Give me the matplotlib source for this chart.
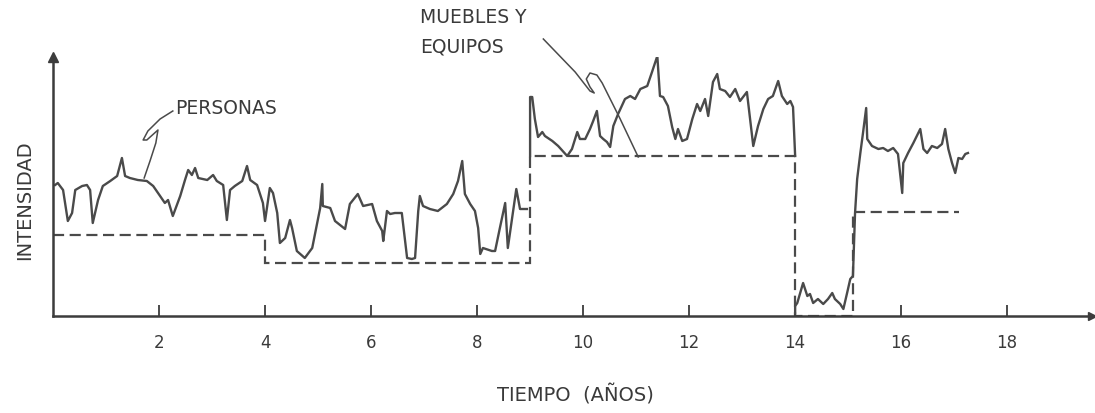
import numpy as np
import matplotlib.pyplot as plt

# intensidad de carga (unidades arbitrarias) frente al tiempo en años
personas_t = [0.04, 0.09, 0.19, 0.28, 0.36, 0.42, 0.55, 0.64, 0.70, 0.75, 0.85, 0.94,
              1.08, 1.21, 1.30, 1.36, 1.45, 1.60, 1.77, 1.89, 2.02, 2.11, 2.17, 2.26,
              2.40, 2.49, 2.55, 2.62, 2.68, 2.74, 2.91, 3.02, 3.09, 3.21, 3.28, 3.34,
              3.43, 3.57, 3.66, 3.72, 3.85, 3.96, 4.00, 4.09, 4.15, 4.23, 4.28, 4.38,
              4.47, 4.51, 4.60, 4.75, 4.89, 4.98, 5.04, 5.08, 5.09, 5.23, 5.32, 5.51,
              5.60, 5.75, 5.85, 6.02, 6.11, 6.21, 6.23, 6.30, 6.36, 6.45, 6.58, 6.68,
              6.77, 6.83, 6.89, 6.92, 6.98, 7.11, 7.26, 7.43, 7.55, 7.64, 7.72, 7.77,
              7.87, 7.96, 8.02, 8.06, 8.11, 8.28, 8.34, 8.43, 8.53, 8.58, 8.68, 8.74,
              8.81, 8.94]
personas_i = [5.24, 5.32, 5.04, 3.80, 4.12, 5.04, 5.20, 5.24, 5.04, 3.72, 4.64, 5.20,
              5.40, 5.60, 6.32, 5.60, 5.52, 5.44, 5.40, 5.20, 4.80, 4.52, 4.64, 4.00,
              4.80, 5.44, 5.84, 5.64, 5.92, 5.52, 5.44, 5.64, 5.40, 5.24, 3.84, 5.04,
              5.20, 5.40, 6.00, 5.44, 5.24, 4.52, 3.80, 5.12, 4.92, 4.12, 2.92, 3.12,
              3.84, 3.52, 2.60, 2.32, 2.72, 3.68, 4.32, 5.28, 4.40, 4.32, 3.80, 3.48,
              4.48, 4.88, 4.40, 4.48, 3.80, 3.40, 3.00, 4.20, 4.08, 4.12, 4.12, 2.32,
              2.28, 2.32, 4.20, 4.80, 4.40, 4.28, 4.20, 4.48, 4.88, 5.40, 6.20, 4.88,
              4.48, 4.20, 3.52, 2.48, 2.72, 2.60, 2.60, 3.52, 4.52, 2.72, 4.20, 5.08,
              4.28, 4.28]

muebles_t = [9.00, 9.00, 9.04, 9.09, 9.15, 9.23, 9.28, 9.42, 9.53, 9.70, 9.79, 9.89,
             9.94, 10.04, 10.13, 10.19, 10.26, 10.32, 10.38, 10.45, 10.51, 10.57, 10.66,
             10.79, 10.89, 10.98, 11.08, 11.21, 11.30, 11.40, 11.45, 11.51, 11.60, 11.68,
             11.74, 11.79, 11.87, 11.96, 12.06, 12.15, 12.21, 12.30, 12.36, 12.45, 12.53,
             12.58, 12.68, 12.77, 12.87, 12.96, 13.09, 13.21, 13.30, 13.40, 13.49, 13.58,
             13.68, 13.75, 13.85, 13.91, 13.96, 14.00]
muebles_i = [6.40, 8.76, 8.76, 7.88, 7.16, 7.36, 7.20, 7.00, 6.80, 6.40, 6.68, 7.36,
             7.08, 7.08, 7.48, 7.80, 8.20, 7.20, 7.08, 6.96, 6.76, 7.60, 8.08,
             8.68, 8.80, 8.68, 9.08, 9.20, 9.76, 10.40, 8.80, 8.76, 8.40, 7.56,
             7.08, 7.48, 7.00, 7.08, 7.88, 8.48, 8.20, 8.68, 8.00, 9.36, 9.68,
             9.08, 9.00, 8.76, 9.08, 8.60, 8.96, 6.80, 7.60, 8.28, 8.68, 8.80,
             9.40, 8.80, 8.48, 8.60, 8.36, 6.40]

# periodo desocupado y nueva ocupacion
nueva_t = [14.00, 14.00, 14.04, 14.15, 14.23, 14.28, 14.34, 14.43, 14.53, 14.62, 14.70,
           14.75, 14.85, 14.91, 14.98, 15.04, 15.09, 15.13, 15.17, 15.23, 15.28, 15.34,
           15.36, 15.45, 15.57, 15.66, 15.75, 15.85, 15.94, 16.02, 16.04, 16.13, 16.23,
           16.36, 16.42, 16.49, 16.58, 16.68, 16.77, 16.83, 16.89, 16.96, 17.02, 17.08,
           17.15, 17.21, 17.26]
nueva_i = [0.10, 0.40, 0.52, 1.32, 0.80, 0.88, 0.52, 0.68, 0.48, 0.68, 0.92,
           0.68, 0.48, 0.28, 0.92, 1.48, 1.60, 4.12, 5.48, 6.52, 7.32, 8.32,
           7.08, 6.80, 6.68, 6.72, 6.60, 6.72, 6.48, 4.92, 6.12, 6.52, 6.92,
           7.48, 6.68, 6.52, 6.80, 6.72, 6.88, 7.48, 6.68, 6.12, 5.72, 6.32,
           6.28, 6.48, 6.52]

# carga sostenida (escalones)
sostenida_bordes = [0.0, 4.0, 9.0, 14.0, 15.1, 17.1]
sostenida_i = [3.24, 2.12, 6.40, 0.0, 4.16]

anios = [2, 4, 6, 8, 10, 12, 14, 16, 18]

ink = '#4a4a4a'

fig = plt.figure(figsize=(10.95, 4.14), dpi=100)
ax = fig.add_axes([53 / 1095, 97 / 414, 1039 / 1095, 259 / 414])
ax.set_xlim(0, 19.6)
ax.set_ylim(0, 10.36)

ax.plot(personas_t, personas_i, color=ink, lw=1.7)
ax.plot(muebles_t, muebles_i, color=ink, lw=1.7)
ax.plot(nueva_t, nueva_i, color=ink, lw=1.7)
ax.stairs(sostenida_i, sostenida_bordes, baseline=None, color=ink, lw=1.6,
          linestyle=(0, (5, 2.5)))

for s in ['top', 'right']:
    ax.spines[s].set_visible(False)
for s in ['left', 'bottom']:
    ax.spines[s].set_color('#3c3c3c')
    ax.spines[s].set_linewidth(1.8)
ax.plot([0], [10.36], marker='^', color='#3c3c3c', ms=7, clip_on=False)
ax.plot([19.6], [0], marker='>', color='#3c3c3c', ms=6, clip_on=False)

ax.set_yticks([])
ax.set_xticks(anios)
ax.set_xticklabels([str(a) for a in anios])
ax.tick_params(axis='x', direction='in', length=8, width=1.3, color='#3c3c3c',
               pad=12, labelsize=12, labelcolor='#3a3a3a')

# anotaciones
ax.text(2.30, 8.32, 'PERSONAS', fontsize=13.5, color='#3a3a3a', va='center', ha='left')
ax.plot([2.26, 2.02, 1.79, 1.70, 1.77, 1.98, 1.94, 1.83, 1.72],
        [8.20, 7.88, 7.40, 7.04, 7.04, 7.44, 6.92, 6.20, 5.52],
        color=ink, lw=1.1)
ax.text(6.92, 11.96, 'MUEBLES Y', fontsize=13.5, color='#3a3a3a', va='center',
        ha='left', clip_on=False)
ax.text(6.92, 10.80, 'EQUIPOS', fontsize=13.5, color='#3a3a3a', va='center',
        ha='left', clip_on=False)
ax.plot([9.25, 9.85, 10.13, 10.21, 10.13, 10.06, 10.13, 10.26, 10.36, 10.70, 11.04],
        [11.08, 9.76, 9.00, 8.92, 9.16, 9.48, 9.72, 9.64, 9.32, 7.88, 6.36],
        color=ink, lw=1.1, clip_on=False)

fig.text(25 / 1095, 1 - 200 / 414, 'INTENSIDAD', rotation=90, fontsize=14,
         color='#3a3a3a', ha='center', va='center')
fig.text(575 / 1095, 1 - 395 / 414, 'TIEMPO  (AÑOS)', fontsize=14,
         color='#3a3a3a', ha='center', va='center')

fig.savefig('out.png', dpi=100, facecolor='white')
